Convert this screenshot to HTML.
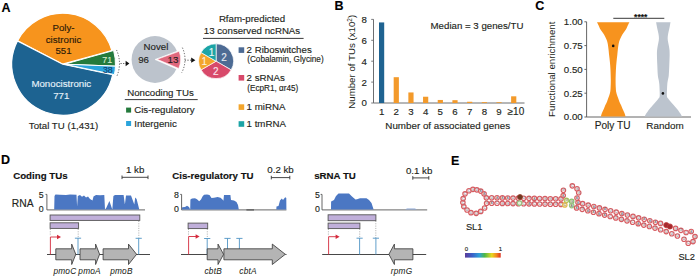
<!DOCTYPE html>
<html><head><meta charset="utf-8"><style>
html,body{margin:0;padding:0;background:#fff;}
svg{display:block;}
text{font-family:"Liberation Sans",sans-serif;}
</style></head><body>
<svg width="698" height="276" viewBox="0 0 698 276">
<rect width="698" height="276" fill="#fff"/>
<text x="1.5" y="12.2" font-size="12.5" text-anchor="start" fill="#000" stroke="#000" stroke-width="0.14" font-weight="bold" font-style="normal" >A</text>
<path d="M62.80,64.20 L17.44,40.89 A51,51 0 0 1 111.92,50.49 Z" fill="#f7941d" stroke="#fff" stroke-width="1.2" stroke-linejoin="round"/>
<path d="M62.80,64.20 L112.72,74.63 A51,51 0 1 1 17.44,40.89 Z" fill="#1d6391" stroke="#fff" stroke-width="1.2" stroke-linejoin="round"/>
<path d="M64.50,64.20 L113.62,50.49 A51,51 0 0 1 115.46,66.16 Z" fill="#247a3c" stroke="#fff" stroke-width="1.0" stroke-linejoin="round"/>
<path d="M64.50,64.20 L115.46,66.16 A51,51 0 0 1 114.42,74.63 Z" fill="#2aa4dc" stroke="#fff" stroke-width="1.0" stroke-linejoin="round"/>
<text x="63.5" y="30.6" font-size="9.7" text-anchor="middle" fill="#2b1a08" stroke="#2b1a08" stroke-width="0.14" font-weight="normal" font-style="normal" >Poly-</text>
<text x="63.5" y="42.5" font-size="9.7" text-anchor="middle" fill="#2b1a08" stroke="#2b1a08" stroke-width="0.14" font-weight="normal" font-style="normal" >cistronic</text>
<text x="63.5" y="53.9" font-size="9.7" text-anchor="middle" fill="#2b1a08" stroke="#2b1a08" stroke-width="0.14" font-weight="normal" font-style="normal" >551</text>
<text x="61.3" y="87.1" font-size="9.7" text-anchor="middle" fill="#e6f2fa" stroke="#e6f2fa" stroke-width="0.14" font-weight="normal" font-style="normal" >Monocistronic</text>
<text x="61.3" y="98.5" font-size="9.7" text-anchor="middle" fill="#e6f2fa" stroke="#e6f2fa" stroke-width="0.14" font-weight="normal" font-style="normal" >771</text>
<text x="107.2" y="62.7" font-size="8.8" text-anchor="middle" fill="#d8ecd0" stroke="#d8ecd0" stroke-width="0.14" font-weight="normal" font-style="normal" >71</text>
<text x="107.8" y="73.3" font-size="8.8" text-anchor="middle" fill="#123f73" stroke="#123f73" stroke-width="0.14" font-weight="normal" font-style="normal" >38</text>
<text x="63.5" y="128.5" font-size="9.7" text-anchor="middle" fill="#231f20" stroke="#231f20" stroke-width="0.14" font-weight="normal" font-style="normal" >Total TU (1,431)</text>
<path d="M116.50,49.98 A32,32 0 0 1 116.50,77.02" fill="none" stroke="#333" stroke-width="0.8" stroke-dasharray="1.2,1.6"/>
<path d="M120.5,63.5 H126" stroke="#333" stroke-width="0.8" stroke-dasharray="1.2,1.4"/>
<path d="M125.6,60.8 L129.4,63.5 L125.6,66.2 Z" fill="#111"/>
<circle cx="155.0" cy="59.5" r="23.4" fill="#bcc3cc"/>
<path d="M155.00,59.50 L177.20,51.20 A23.7,23.7 0 0 1 176.73,68.95 Z" fill="#fff" stroke="#fff" stroke-width="0.6" stroke-linejoin="round"/>
<path d="M157.20,59.30 L179.19,51.30 A23.4,23.4 0 0 1 178.74,68.44 Z" fill="#e0687d" stroke="#fff" stroke-width="0.6" stroke-linejoin="round"/>
<text x="156" y="49.9" font-size="9.7" text-anchor="middle" fill="#231f20" stroke="#231f20" stroke-width="0.14" font-weight="normal" font-style="normal" >Novel</text>
<text x="143.6" y="62.9" font-size="9.7" text-anchor="middle" fill="#231f20" stroke="#231f20" stroke-width="0.14" font-weight="normal" font-style="normal" >96</text>
<text x="172.9" y="62.9" font-size="9.7" text-anchor="middle" fill="#231f20" stroke="#231f20" stroke-width="0.14" font-weight="normal" font-style="normal" >13</text>
<path d="M182.38,47.67 A28,28 0 0 1 181.72,72.65" fill="none" stroke="#333" stroke-width="0.8" stroke-dasharray="1.2,1.6"/>
<path d="M184.8,60.2 H191.5" stroke="#333" stroke-width="0.8" stroke-dasharray="1.2,1.4"/>
<path d="M191.2,57.6 L195.4,60.2 L191.2,62.8 Z" fill="#111"/>
<text x="252" y="22.3" font-size="9.7" text-anchor="middle" fill="#231f20" stroke="#231f20" stroke-width="0.14" font-weight="normal" font-style="normal" >Rfam-predicted</text>
<text x="252" y="34.0" font-size="9.7" text-anchor="middle" fill="#231f20" stroke="#231f20" stroke-width="0.14" font-weight="normal" font-style="normal" >13 conserved ncRNAs</text>
<path d="M203,38.4 H303.6" stroke="#222" stroke-width="0.9"/>
<path d="M216.10,61.20 L216.10,43.80 A17.4,17.4 0 0 1 231.17,69.90 Z" fill="#4d6b94" stroke="#fff" stroke-width="0.7" stroke-linejoin="round"/>
<path d="M216.10,61.20 L231.17,69.90 A17.4,17.4 0 0 1 201.03,69.90 Z" fill="#d8496a" stroke="#fff" stroke-width="0.7" stroke-linejoin="round"/>
<path d="M216.10,61.20 L201.03,69.90 A17.4,17.4 0 0 1 201.03,52.50 Z" fill="#f3a52c" stroke="#fff" stroke-width="0.7" stroke-linejoin="round"/>
<path d="M216.10,61.20 L201.03,52.50 A17.4,17.4 0 0 1 216.10,43.80 Z" fill="#1ba4a6" stroke="#fff" stroke-width="0.7" stroke-linejoin="round"/>
<text x="211.5" y="55.8" font-size="10" text-anchor="middle" fill="#e8f6f6" stroke="#e8f6f6" stroke-width="0.14" font-weight="normal" font-style="normal" >1</text>
<text x="224.1" y="60.6" font-size="10" text-anchor="middle" fill="#e3e9f2" stroke="#e3e9f2" stroke-width="0.14" font-weight="normal" font-style="normal" >2</text>
<text x="204.3" y="64.8" font-size="10" text-anchor="middle" fill="#fdf0dc" stroke="#fdf0dc" stroke-width="0.14" font-weight="normal" font-style="normal" >1</text>
<text x="215.9" y="75.0" font-size="10" text-anchor="middle" fill="#fbe3ea" stroke="#fbe3ea" stroke-width="0.14" font-weight="normal" font-style="normal" >2</text>
<rect x="238.6" y="47.3" width="5.6" height="5.6" fill="#4d6b94"/>
<text x="246.6" y="53.0" font-size="9.7" text-anchor="start" fill="#231f20" stroke="#231f20" stroke-width="0.14" font-weight="normal" font-style="normal" >2 Riboswitches</text>
<text x="247.2" y="62.3" font-size="8.2" text-anchor="start" fill="#231f20" stroke="#231f20" stroke-width="0.14" font-weight="normal" font-style="normal" >(Cobalamin, Glycine)</text>
<rect x="238.6" y="75.0" width="5.6" height="5.6" fill="#d8496a"/>
<text x="246.6" y="80.8" font-size="9.7" text-anchor="start" fill="#231f20" stroke="#231f20" stroke-width="0.14" font-weight="normal" font-style="normal" >2 sRNAs</text>
<text x="247.2" y="90.8" font-size="8.2" text-anchor="start" fill="#231f20" stroke="#231f20" stroke-width="0.14" font-weight="normal" font-style="normal" >(EcpR1, αr45)</text>
<rect x="238.6" y="104.3" width="5.6" height="5.6" fill="#f3a52c"/>
<text x="246.6" y="110.3" font-size="9.7" text-anchor="start" fill="#231f20" stroke="#231f20" stroke-width="0.14" font-weight="normal" font-style="normal" >1 miRNA</text>
<rect x="238.6" y="121.2" width="5.6" height="5.6" fill="#1ba4a6"/>
<text x="246.6" y="127.1" font-size="9.7" text-anchor="start" fill="#231f20" stroke="#231f20" stroke-width="0.14" font-weight="normal" font-style="normal" >1 tmRNA</text>
<text x="127.2" y="95.9" font-size="9.7" text-anchor="start" fill="#231f20" stroke="#231f20" stroke-width="0.14" font-weight="normal" font-style="normal" >Noncoding TUs</text>
<path d="M124.8,99.6 H197.7" stroke="#222" stroke-width="0.9"/>
<rect x="126.1" y="107.6" width="5.0" height="5.0" fill="#247a3c"/>
<text x="134.2" y="112.9" font-size="9.7" text-anchor="start" fill="#231f20" stroke="#231f20" stroke-width="0.14" font-weight="normal" font-style="normal" >Cis-regulatory</text>
<rect x="126.1" y="121.0" width="5.0" height="5.0" fill="#2aa4dc"/>
<text x="134.2" y="126.8" font-size="9.7" text-anchor="start" fill="#231f20" stroke="#231f20" stroke-width="0.14" font-weight="normal" font-style="normal" >Intergenic</text>
<text x="334.6" y="9.6" font-size="12.5" text-anchor="start" fill="#000" stroke="#000" stroke-width="0.14" font-weight="bold" font-style="normal" >B</text>
<path d="M373.5,19.3 V103.0 H524.5" fill="none" stroke="#6d6e71" stroke-width="1.0"/>
<path d="M371.2,103.00 H373.5" stroke="#6d6e71" stroke-width="0.9"/>
<text x="364.3" y="106.4" font-size="9.7" text-anchor="middle" fill="#231f20" stroke="#231f20" stroke-width="0.14" font-weight="normal" font-style="normal" >0</text>
<path d="M371.2,82.10 H373.5" stroke="#6d6e71" stroke-width="0.9"/>
<text x="364.3" y="85.5" font-size="9.7" text-anchor="middle" fill="#231f20" stroke="#231f20" stroke-width="0.14" font-weight="normal" font-style="normal" >2</text>
<path d="M371.2,61.20 H373.5" stroke="#6d6e71" stroke-width="0.9"/>
<text x="364.3" y="64.60000000000001" font-size="9.7" text-anchor="middle" fill="#231f20" stroke="#231f20" stroke-width="0.14" font-weight="normal" font-style="normal" >4</text>
<path d="M371.2,40.30 H373.5" stroke="#6d6e71" stroke-width="0.9"/>
<text x="364.3" y="43.7" font-size="9.7" text-anchor="middle" fill="#231f20" stroke="#231f20" stroke-width="0.14" font-weight="normal" font-style="normal" >6</text>
<path d="M371.2,19.40 H373.5" stroke="#6d6e71" stroke-width="0.9"/>
<text x="364.3" y="22.800000000000004" font-size="9.7" text-anchor="middle" fill="#231f20" stroke="#231f20" stroke-width="0.14" font-weight="normal" font-style="normal" >8</text>
<rect x="379.00" y="22.43" width="5.2" height="80.57" fill="#1f6391"/>
<text x="381.60" y="115.3" font-size="9.7" text-anchor="middle" fill="#231f20" stroke="#231f20" stroke-width="0.14" font-weight="normal" font-style="normal" >1</text>
<rect x="393.68" y="77.19" width="5.2" height="25.81" fill="#f39a2b"/>
<text x="396.28" y="115.3" font-size="9.7" text-anchor="middle" fill="#231f20" stroke="#231f20" stroke-width="0.14" font-weight="normal" font-style="normal" >2</text>
<rect x="408.36" y="92.45" width="5.2" height="10.55" fill="#f39a2b"/>
<text x="410.96" y="115.3" font-size="9.7" text-anchor="middle" fill="#231f20" stroke="#231f20" stroke-width="0.14" font-weight="normal" font-style="normal" >3</text>
<rect x="423.04" y="96.73" width="5.2" height="6.27" fill="#f39a2b"/>
<text x="425.64" y="115.3" font-size="9.7" text-anchor="middle" fill="#231f20" stroke="#231f20" stroke-width="0.14" font-weight="normal" font-style="normal" >4</text>
<rect x="437.72" y="99.97" width="5.2" height="3.03" fill="#f39a2b"/>
<text x="440.32" y="115.3" font-size="9.7" text-anchor="middle" fill="#231f20" stroke="#231f20" stroke-width="0.14" font-weight="normal" font-style="normal" >5</text>
<rect x="452.40" y="100.18" width="5.2" height="2.82" fill="#f39a2b"/>
<text x="455.00" y="115.3" font-size="9.7" text-anchor="middle" fill="#231f20" stroke="#231f20" stroke-width="0.14" font-weight="normal" font-style="normal" >6</text>
<rect x="467.08" y="101.75" width="5.2" height="1.25" fill="#f39a2b"/>
<text x="469.68" y="115.3" font-size="9.7" text-anchor="middle" fill="#231f20" stroke="#231f20" stroke-width="0.14" font-weight="normal" font-style="normal" >7</text>
<rect x="481.76" y="102.16" width="5.2" height="0.84" fill="#f39a2b"/>
<text x="484.36" y="115.3" font-size="9.7" text-anchor="middle" fill="#231f20" stroke="#231f20" stroke-width="0.14" font-weight="normal" font-style="normal" >8</text>
<rect x="496.44" y="102.27" width="5.2" height="0.73" fill="#f39a2b"/>
<text x="499.04" y="115.3" font-size="9.7" text-anchor="middle" fill="#231f20" stroke="#231f20" stroke-width="0.14" font-weight="normal" font-style="normal" >9</text>
<rect x="511.12" y="96.31" width="5.2" height="6.69" fill="#f39a2b"/>
<text x="515.92" y="115.3" font-size="10" text-anchor="middle" fill="#231f20" stroke="#231f20" stroke-width="0.14" font-weight="normal" font-style="normal" >≥10</text>
<text x="447.7" y="129.0" font-size="9.8" text-anchor="middle" fill="#231f20" stroke="#231f20" stroke-width="0.14" font-weight="normal" font-style="normal" >Number of associated genes</text>
<text x="477" y="28.6" font-size="9.7" text-anchor="middle" fill="#231f20" stroke="#231f20" stroke-width="0.14" font-weight="normal" font-style="normal" >Median = 3 genes/TU</text>
<text transform="translate(355.4,61.8) rotate(-90)" font-size="9.7" text-anchor="middle" fill="#231f20">Number of TUs (x10<tspan font-size="6.5" dy="-3.5">2</tspan><tspan dy="3.5">)</tspan></text>
<text x="535.2" y="10.3" font-size="12.5" text-anchor="start" fill="#000" stroke="#000" stroke-width="0.14" font-weight="bold" font-style="normal" >C</text>
<path d="M586.6,21.8 V117.0 H691" fill="none" stroke="#555" stroke-width="0.9"/>
<path d="M584.4,21.80 H586.6" stroke="#555" stroke-width="0.9"/>
<text x="582.7" y="25.199999999999996" font-size="9.7" text-anchor="end" fill="#231f20" stroke="#231f20" stroke-width="0.14" font-weight="normal" font-style="normal" >1.00</text>
<path d="M584.4,45.60 H586.6" stroke="#555" stroke-width="0.9"/>
<text x="582.7" y="48.99999999999999" font-size="9.7" text-anchor="end" fill="#231f20" stroke="#231f20" stroke-width="0.14" font-weight="normal" font-style="normal" >0.75</text>
<path d="M584.4,69.40 H586.6" stroke="#555" stroke-width="0.9"/>
<text x="582.7" y="72.80000000000001" font-size="9.7" text-anchor="end" fill="#231f20" stroke="#231f20" stroke-width="0.14" font-weight="normal" font-style="normal" >0.50</text>
<path d="M584.4,93.20 H586.6" stroke="#555" stroke-width="0.9"/>
<text x="582.7" y="96.60000000000001" font-size="9.7" text-anchor="end" fill="#231f20" stroke="#231f20" stroke-width="0.14" font-weight="normal" font-style="normal" >0.25</text>
<path d="M584.4,117.00 H586.6" stroke="#555" stroke-width="0.9"/>
<text x="582.7" y="120.4" font-size="9.7" text-anchor="end" fill="#231f20" stroke="#231f20" stroke-width="0.14" font-weight="normal" font-style="normal" >0.00</text>
<text transform="translate(555.4,69.3) rotate(-90)" font-size="9.7" text-anchor="middle" fill="#231f20">Functional enrichment</text>
<text x="612.6" y="129.0" font-size="10.1" text-anchor="middle" fill="#231f20" stroke="#231f20" stroke-width="0.14" font-weight="normal" font-style="normal" >Poly TU</text>
<text x="665.0" y="128.9" font-size="9.9" text-anchor="middle" fill="#231f20" stroke="#231f20" stroke-width="0.14" font-weight="normal" font-style="normal" >Random</text>
<path d="M597.00,22.20 C597.23,22.67 597.82,23.78 598.40,25.00 C598.98,26.22 599.73,28.17 600.50,29.50 C601.27,30.83 602.22,31.80 603.00,33.00 C603.78,34.20 604.58,35.53 605.20,36.70 C605.82,37.87 606.27,38.78 606.70,40.00 C607.13,41.22 607.48,42.33 607.80,44.00 C608.12,45.67 608.38,48.17 608.60,50.00 C608.82,51.83 608.88,53.00 609.10,55.00 C609.32,57.00 609.67,59.50 609.90,62.00 C610.13,64.50 610.35,67.00 610.50,70.00 C610.65,73.00 610.78,77.00 610.80,80.00 C610.82,83.00 610.70,86.00 610.60,88.00 C610.50,90.00 610.40,90.83 610.20,92.00 C610.00,93.17 609.72,94.00 609.40,95.00 C609.08,96.00 608.70,96.88 608.30,98.00 C607.90,99.12 607.48,100.53 607.00,101.70 C606.52,102.87 605.93,103.78 605.40,105.00 C604.87,106.22 604.30,107.83 603.80,109.00 C603.30,110.17 602.80,111.08 602.40,112.00 C602.00,112.92 601.65,113.75 601.40,114.50 C601.15,115.25 600.98,116.17 600.90,116.50 L625.50,116.50 C625.42,116.17 625.25,115.25 625.00,114.50 C624.75,113.75 624.40,112.92 624.00,112.00 C623.60,111.08 623.10,110.17 622.60,109.00 C622.10,107.83 621.53,106.22 621.00,105.00 C620.47,103.78 619.88,102.87 619.40,101.70 C618.92,100.53 618.50,99.12 618.10,98.00 C617.70,96.88 617.32,96.00 617.00,95.00 C616.68,94.00 616.40,93.17 616.20,92.00 C616.00,90.83 615.90,90.00 615.80,88.00 C615.70,86.00 615.58,83.00 615.60,80.00 C615.62,77.00 615.75,73.00 615.90,70.00 C616.05,67.00 616.27,64.50 616.50,62.00 C616.73,59.50 617.08,57.00 617.30,55.00 C617.52,53.00 617.58,51.83 617.80,50.00 C618.02,48.17 618.28,45.67 618.60,44.00 C618.92,42.33 619.27,41.22 619.70,40.00 C620.13,38.78 620.58,37.87 621.20,36.70 C621.82,35.53 622.62,34.20 623.40,33.00 C624.18,31.80 625.13,30.83 625.90,29.50 C626.67,28.17 627.42,26.22 628.00,25.00 C628.58,23.78 629.17,22.67 629.40,22.20 Z" fill="#f7931e"/>
<path d="M656.10,22.20 C656.18,22.67 656.37,23.78 656.60,25.00 C656.83,26.22 657.18,28.00 657.50,29.50 C657.82,31.00 658.26,32.55 658.50,34.00 C658.74,35.45 658.95,36.87 658.95,38.20 C658.95,39.53 658.71,40.70 658.50,42.00 C658.29,43.30 657.93,44.67 657.70,46.00 C657.47,47.33 657.22,48.50 657.10,50.00 C656.97,51.50 656.92,52.50 656.95,55.00 C656.98,57.50 657.16,61.67 657.30,65.00 C657.44,68.33 657.57,72.50 657.80,75.00 C658.03,77.50 658.45,78.50 658.70,80.00 C658.95,81.50 659.15,82.33 659.30,84.00 C659.45,85.67 659.54,87.92 659.60,90.00 C659.66,92.08 659.90,95.00 659.65,96.50 C659.40,98.00 658.91,97.92 658.10,99.00 C657.29,100.08 655.80,101.83 654.80,103.00 C653.80,104.17 653.05,104.90 652.10,106.00 C651.15,107.10 649.88,108.60 649.10,109.60 C648.32,110.60 647.93,111.27 647.40,112.00 C646.87,112.73 646.35,113.25 645.90,114.00 C645.45,114.75 644.90,116.08 644.70,116.50 L681.90,116.50 C681.70,116.08 681.15,114.75 680.70,114.00 C680.25,113.25 679.73,112.73 679.20,112.00 C678.67,111.27 678.28,110.60 677.50,109.60 C676.72,108.60 675.45,107.10 674.50,106.00 C673.55,104.90 672.80,104.17 671.80,103.00 C670.80,101.83 669.31,100.08 668.50,99.00 C667.69,97.92 667.20,98.00 666.95,96.50 C666.70,95.00 666.94,92.08 667.00,90.00 C667.06,87.92 667.15,85.67 667.30,84.00 C667.45,82.33 667.65,81.50 667.90,80.00 C668.15,78.50 668.57,77.50 668.80,75.00 C669.03,72.50 669.16,68.33 669.30,65.00 C669.44,61.67 669.62,57.50 669.65,55.00 C669.68,52.50 669.62,51.50 669.50,50.00 C669.38,48.50 669.13,47.33 668.90,46.00 C668.67,44.67 668.31,43.30 668.10,42.00 C667.89,40.70 667.65,39.53 667.65,38.20 C667.65,36.87 667.86,35.45 668.10,34.00 C668.34,32.55 668.78,31.00 669.10,29.50 C669.42,28.00 669.77,26.22 670.00,25.00 C670.23,23.78 670.42,22.67 670.50,22.20 Z" fill="#bcc4ce"/>
<circle cx="613.2" cy="45.9" r="1.3" fill="#111"/>
<circle cx="662.9" cy="93.4" r="1.3" fill="#111"/>
<path d="M613.3,18.3 H664.3" stroke="#222" stroke-width="0.9"/>
<text x="640.7" y="20.2" font-size="8.5" text-anchor="middle" fill="#111" stroke="#111" stroke-width="0.14" font-weight="bold" font-style="normal" >****</text>
<text x="1.0" y="164.2" font-size="12.5" text-anchor="start" fill="#000" stroke="#000" stroke-width="0.14" font-weight="bold" font-style="normal" >D</text>
<text x="13.2" y="178.7" font-size="9.7" text-anchor="start" fill="#111" stroke="#111" stroke-width="0.14" font-weight="bold" font-style="normal" >Coding TUs</text>
<text x="172.3" y="178.9" font-size="9.7" text-anchor="start" fill="#111" stroke="#111" stroke-width="0.14" font-weight="bold" font-style="normal" >Cis-regulatory TU</text>
<text x="314.2" y="178.9" font-size="9.7" text-anchor="start" fill="#111" stroke="#111" stroke-width="0.14" font-weight="bold" font-style="normal" >sRNA TU</text>
<text x="33.6" y="207.0" font-size="10.3" text-anchor="end" fill="#231f20" stroke="#231f20" stroke-width="0.14" font-weight="normal" font-style="normal" >RNA</text>
<path d="M122,177.3 H148 M122,175.5 V179.10000000000002 M148,175.5 V179.10000000000002" stroke="#333" stroke-width="0.9" fill="none"/>
<text x="135.2" y="172.9" font-size="9.7" text-anchor="middle" fill="#231f20" stroke="#231f20" stroke-width="0.14" font-weight="normal" font-style="normal" >1 kb</text>
<path d="M271.3,177.6 H289.8 M271.3,175.79999999999998 V179.4 M289.8,175.79999999999998 V179.4" stroke="#333" stroke-width="0.9" fill="none"/>
<text x="280.5" y="173.2" font-size="9.7" text-anchor="middle" fill="#231f20" stroke="#231f20" stroke-width="0.14" font-weight="normal" font-style="normal" >0.2 kb</text>
<path d="M412.8,177.9 H428.8 M412.8,176.1 V179.70000000000002 M428.8,176.1 V179.70000000000002" stroke="#333" stroke-width="0.9" fill="none"/>
<text x="419.1" y="173.5" font-size="9.7" text-anchor="middle" fill="#231f20" stroke="#231f20" stroke-width="0.14" font-weight="normal" font-style="normal" >0.1 kb</text>
<path d="M45.5,194.4 H46.9 V209.9 H145" fill="none" stroke="#555" stroke-width="0.9"/>
<text x="41.1" y="197.6" font-size="8.8" text-anchor="middle" fill="#231f20" stroke="#231f20" stroke-width="0.14" font-weight="normal" font-style="normal" >5</text>
<text x="41.1" y="212.1" font-size="8.8" text-anchor="middle" fill="#231f20" stroke="#231f20" stroke-width="0.14" font-weight="normal" font-style="normal" >0</text>
<path d="M54.2,209.6 L54.5,196.0 L55.5,194.6 L60.0,194.7 L66.0,195.0 L70.0,194.6 L76.5,194.8 L77.1,206.5 L77.8,196.0 L80.0,195.0 L82.0,196.8 L84.0,195.5 L86.0,197.5 L88.0,196.5 L90.0,199.0 L92.5,200.5 L93.5,196.5 L96.0,195.0 L100.0,195.2 L104.3,195.0 L105.0,209.6 L106.2,208.0 L109.4,201.0 L112.3,209.6 L113.4,196.0 L115.0,195.0 L123.6,195.0 L124.9,204.5 L126.0,195.5 L131.0,195.5 L134.3,204.5 L135.2,197.6 L136.6,199.0 L139.3,209.6 Z" fill="#4b77c3"/>
<path d="M180.2,194.4 H181.6 V209.9 H286.4" fill="none" stroke="#555" stroke-width="0.9"/>
<text x="176.5" y="197.6" font-size="8.8" text-anchor="middle" fill="#231f20" stroke="#231f20" stroke-width="0.14" font-weight="normal" font-style="normal" >8</text>
<text x="176.5" y="212.1" font-size="8.8" text-anchor="middle" fill="#231f20" stroke="#231f20" stroke-width="0.14" font-weight="normal" font-style="normal" >0</text>
<path d="M181.8,209.6 L182.2,207.2 L185.0,207.0 L187.0,205.8 L189.0,207.0 L190.2,209.6 L190.4,199.5 L192.0,198.6 L195.0,198.3 L197.0,199.2 L199.2,201.2 L201.0,199.5 L202.5,196.5 L204.0,194.8 L207.0,194.4 L209.5,195.0 L211.5,197.9 L214.0,197.8 L217.6,197.0 L220.5,197.8 L222.5,199.5 L223.4,200.7 L224.0,195.0 L230.4,195.0 L231.0,200.0 L234.0,200.5 L236.5,202.0 L238.0,205.0 L238.8,209.6 Z" fill="#4b77c3"/>
<path d="M246.4,209.9 H254" stroke="#555" stroke-width="1.2"/>
<path d="M276.3,209.6 L276.5,206.5 L278.5,206.0 L280.0,200.5 L281.8,198.5 L283.0,200.0 L285.2,197.3 L286.3,198.0 L286.4,209.6 Z" fill="#4b77c3"/>
<path d="M320.6,194.4 H322.0 V209.9 H427.2" fill="none" stroke="#555" stroke-width="0.9"/>
<text x="317.5" y="197.6" font-size="8.8" text-anchor="middle" fill="#231f20" stroke="#231f20" stroke-width="0.14" font-weight="normal" font-style="normal" >5</text>
<text x="317.5" y="212.1" font-size="8.8" text-anchor="middle" fill="#231f20" stroke="#231f20" stroke-width="0.14" font-weight="normal" font-style="normal" >0</text>
<path d="M331.0,209.6 L331.1,201.5 L334.0,200.0 L336.0,196.0 L338.5,193.6 L349.0,193.6 L352.0,196.5 L355.5,199.5 L357.0,199.3 L360.0,198.2 L366.5,198.2 L369.0,200.0 L371.5,203.0 L373.6,209.6 Z" fill="#4b77c3"/>
<path d="M405.0,209.6 L407.0,208.6 L415.0,208.6 L417.0,209.6 Z" fill="#8aa6d6"/>
<rect x="50.1" y="215.0" width="89.70000000000002" height="5.400000000000006" fill="#c0afda" stroke="#555555" stroke-width="0.9"/>
<rect x="50.1" y="222.8" width="28.499999999999993" height="5.599999999999994" fill="#c0afda" stroke="#555555" stroke-width="0.9"/>
<path d="M50.3,229 V236" stroke="#888" stroke-width="0.7" stroke-dasharray="1,1.3"/>
<path d="M78.2,229 V237.5" stroke="#888" stroke-width="0.7" stroke-dasharray="1,1.3"/>
<path d="M138.8,221 V237.5" stroke="#888" stroke-width="0.7" stroke-dasharray="1,1.3"/>
<path d="M47,254.5 H150" stroke="#333" stroke-width="0.9"/>
<path d="M50.4,254.5 V237.0 H57.5" fill="none" stroke="#d42a3c" stroke-width="0.9"/>
<path d="M57.0,234.8 L61.0,237.0 L57.0,239.2 Z" fill="#d42a3c"/>
<path d="M78.0,254.5 V238.2 M74.9,238.2 H81.1" fill="none" stroke="#4f94c4" stroke-width="0.9"/>
<path d="M138.7,254.5 V238.3 M135.6,238.3 H141.79999999999998" fill="none" stroke="#4f94c4" stroke-width="0.9"/>
<path d="M55.8,248.8 H71.7 V244.10000000000002 L75.8,254.3 L71.7,264.5 V259.8 H55.8 Z" fill="#b4b4b4" stroke="#333" stroke-width="0.8" stroke-linejoin="miter"/>
<path d="M80.0,248.8 H95.6 V244.10000000000002 L99.6,254.3 L95.6,264.5 V259.8 H80.0 Z" fill="#b4b4b4" stroke="#333" stroke-width="0.8" stroke-linejoin="miter"/>
<path d="M103.1,248.8 H128.5 V244.10000000000002 L136.6,254.3 L128.5,264.5 V259.8 H103.1 Z" fill="#b4b4b4" stroke="#333" stroke-width="0.8" stroke-linejoin="miter"/>
<text x="64.9" y="273.9" font-size="8.3" text-anchor="middle" fill="#231f20" stroke="#231f20" stroke-width="0.05" font-weight="normal" font-style="italic" letter-spacing="0.2">pmoC</text>
<text x="89.6" y="273.9" font-size="8.3" text-anchor="middle" fill="#231f20" stroke="#231f20" stroke-width="0.05" font-weight="normal" font-style="italic" letter-spacing="0.2">pmoA</text>
<text x="121.4" y="273.8" font-size="8.3" text-anchor="middle" fill="#231f20" stroke="#231f20" stroke-width="0.05" font-weight="normal" font-style="italic" letter-spacing="0.2">pmoB</text>
<rect x="188.1" y="223.1" width="19.599999999999994" height="5.5" fill="#c0afda" stroke="#555555" stroke-width="0.9"/>
<path d="M188.5,229 V236" stroke="#888" stroke-width="0.7" stroke-dasharray="1,1.3"/>
<path d="M207.3,229 V238" stroke="#888" stroke-width="0.7" stroke-dasharray="1,1.3"/>
<path d="M181,254.5 H207" stroke="#333" stroke-width="0.9"/>
<path d="M188.6,254.5 V236.5 H196.1" fill="none" stroke="#d42a3c" stroke-width="0.9"/>
<path d="M195.6,234.3 L199.6,236.5 L195.6,238.7 Z" fill="#d42a3c"/>
<path d="M207.2,254.5 V238.5 M204.1,238.5 H210.29999999999998" fill="none" stroke="#4f94c4" stroke-width="0.9"/>
<path d="M227.5,254.5 V238.4 M224.4,238.4 H230.6" fill="none" stroke="#4f94c4" stroke-width="0.9"/>
<path d="M239.4,254.5 V238.4 M236.3,238.4 H242.5" fill="none" stroke="#4f94c4" stroke-width="0.9"/>
<path d="M207.2,248.8 H218.0 V244.10000000000002 L223.6,254.3 L218.0,264.5 V259.8 H207.2 Z" fill="#b4b4b4" stroke="#333" stroke-width="0.8" stroke-linejoin="miter"/>
<path d="M223.9,248.8 H272.3 V244.10000000000002 L285.3,254.3 L272.3,264.5 V259.8 H223.9 Z" fill="#b4b4b4" stroke="#333" stroke-width="0.8" stroke-linejoin="miter"/>
<path d="M285.3,254.5 H286.5" stroke="#333" stroke-width="0.9"/>
<text x="213.2" y="273.6" font-size="8.3" text-anchor="middle" fill="#231f20" stroke="#231f20" stroke-width="0.05" font-weight="normal" font-style="italic" letter-spacing="0.2">cbtB</text>
<text x="248.0" y="273.8" font-size="8.3" text-anchor="middle" fill="#231f20" stroke="#231f20" stroke-width="0.05" font-weight="normal" font-style="italic" letter-spacing="0.2">cbtA</text>
<rect x="328.1" y="214.8" width="47.799999999999955" height="5.899999999999977" fill="#c0afda" stroke="#555555" stroke-width="0.9"/>
<rect x="328.1" y="223.1" width="31.799999999999955" height="5.5" fill="#c0afda" stroke="#555555" stroke-width="0.9"/>
<path d="M328.4,229 V236" stroke="#888" stroke-width="0.7" stroke-dasharray="1,1.3"/>
<path d="M359.7,229 V238" stroke="#888" stroke-width="0.7" stroke-dasharray="1,1.3"/>
<path d="M375.8,221 V238" stroke="#888" stroke-width="0.7" stroke-dasharray="1,1.3"/>
<path d="M322.2,254.5 H426.2" stroke="#333" stroke-width="0.9"/>
<path d="M328.6,254.5 V236.7 H336.1" fill="none" stroke="#d42a3c" stroke-width="0.9"/>
<path d="M335.6,234.5 L339.6,236.7 L335.6,238.89999999999998 Z" fill="#d42a3c"/>
<path d="M359.6,254.5 V238.2 M356.5,238.2 H362.70000000000005" fill="none" stroke="#4f94c4" stroke-width="0.9"/>
<path d="M375.9,254.5 V238.2 M372.79999999999995,238.2 H379.0" fill="none" stroke="#4f94c4" stroke-width="0.9"/>
<path d="M412.9,248.8 H394.4 V244.10000000000002 L388.9,254.3 L394.4,264.5 V259.8 H412.9 Z" fill="#b4b4b4" stroke="#333" stroke-width="0.8" stroke-linejoin="miter"/>
<text x="401.6" y="273.8" font-size="8.3" text-anchor="middle" fill="#231f20" stroke="#231f20" stroke-width="0.05" font-weight="normal" font-style="italic" letter-spacing="0.2">rpmG</text>
<text x="451.0" y="164.6" font-size="12.5" text-anchor="start" fill="#000" stroke="#000" stroke-width="0.14" font-weight="bold" font-style="normal" >E</text>
<text x="474.2" y="229.9" font-size="9.3" text-anchor="middle" fill="#231f20" stroke="#231f20" stroke-width="0.14" font-weight="normal" font-style="normal" >SL1</text>
<text x="686.7" y="260.4" font-size="9.3" text-anchor="middle" fill="#231f20" stroke="#231f20" stroke-width="0.14" font-weight="normal" font-style="normal" >SL2</text>
<defs><linearGradient id="cb" x1="0" x2="1" y1="0" y2="0"><stop offset="0" stop-color="#5b3c99"/><stop offset="0.2" stop-color="#3b5fc8"/><stop offset="0.4" stop-color="#2fa0d8"/><stop offset="0.55" stop-color="#4cb848"/><stop offset="0.75" stop-color="#e8d820"/><stop offset="0.88" stop-color="#f28a20"/><stop offset="1" stop-color="#e0301e"/></linearGradient></defs>
<rect x="465" y="253" width="35.7" height="4.6" fill="url(#cb)"/>
<text x="466.4" y="250.6" font-size="6" text-anchor="middle" fill="#231f20" stroke="#231f20" stroke-width="0.14" font-weight="normal" font-style="normal" >0</text>
<text x="500.3" y="250.6" font-size="6" text-anchor="middle" fill="#231f20" stroke="#231f20" stroke-width="0.14" font-weight="normal" font-style="normal" >1</text>
<circle cx="465.05" cy="193.86" r="2.25" fill="#fdf4f4" stroke="#d65c62" stroke-width="1.15"/>
<text x="465.05" y="195.01" font-size="3.4" text-anchor="middle" fill="#6e6262">C</text>
<circle cx="468.95" cy="190.72" r="2.25" fill="#fdf4f4" stroke="#d65c62" stroke-width="1.15"/>
<text x="468.95" y="191.87" font-size="3.4" text-anchor="middle" fill="#6e6262">C</text>
<circle cx="472.94" cy="189.35" r="2.25" fill="#fdf4f4" stroke="#d65c62" stroke-width="1.15"/>
<text x="472.94" y="190.50" font-size="3.4" text-anchor="middle" fill="#6e6262">G</text>
<circle cx="476.84" cy="189.84" r="2.25" fill="#fdf4f4" stroke="#d65c62" stroke-width="1.15"/>
<text x="476.84" y="190.99" font-size="3.4" text-anchor="middle" fill="#6e6262">U</text>
<circle cx="480.73" cy="191.11" r="2.25" fill="#fdf4f4" stroke="#d65c62" stroke-width="1.15"/>
<text x="480.73" y="192.26" font-size="3.4" text-anchor="middle" fill="#6e6262">A</text>
<circle cx="484.05" cy="193.86" r="2.25" fill="#fdf4f4" stroke="#d65c62" stroke-width="1.15"/>
<text x="484.05" y="195.01" font-size="3.4" text-anchor="middle" fill="#6e6262">A</text>
<circle cx="486.34" cy="197.87" r="2.25" fill="#fdf4f4" stroke="#d65c62" stroke-width="1.15"/>
<text x="486.34" y="199.02" font-size="3.4" text-anchor="middle" fill="#6e6262">U</text>
<circle cx="486.62" cy="203.26" r="2.25" fill="#fdf4f4" stroke="#d65c62" stroke-width="1.15"/>
<text x="486.62" y="204.41" font-size="3.4" text-anchor="middle" fill="#6e6262">G</text>
<circle cx="484.62" cy="207.97" r="2.25" fill="#fdf4f4" stroke="#d65c62" stroke-width="1.15"/>
<text x="484.62" y="209.12" font-size="3.4" text-anchor="middle" fill="#6e6262">C</text>
<circle cx="480.73" cy="211.40" r="2.25" fill="#fdf4f4" stroke="#d65c62" stroke-width="1.15"/>
<text x="480.73" y="212.55" font-size="3.4" text-anchor="middle" fill="#6e6262">C</text>
<circle cx="476.17" cy="213.36" r="2.25" fill="#fdf4f4" stroke="#d65c62" stroke-width="1.15"/>
<text x="476.17" y="214.51" font-size="3.4" text-anchor="middle" fill="#6e6262">U</text>
<circle cx="470.95" cy="212.67" r="2.25" fill="#fdf4f4" stroke="#d65c62" stroke-width="1.15"/>
<text x="470.95" y="213.82" font-size="3.4" text-anchor="middle" fill="#6e6262">U</text>
<circle cx="467.05" cy="210.03" r="2.25" fill="#fdf4f4" stroke="#d65c62" stroke-width="1.15"/>
<text x="467.05" y="211.18" font-size="3.4" text-anchor="middle" fill="#6e6262">U</text>
<circle cx="463.82" cy="206.60" r="2.25" fill="#fdf4f4" stroke="#d65c62" stroke-width="1.15"/>
<text x="463.82" y="207.75" font-size="3.4" text-anchor="middle" fill="#6e6262">C</text>
<circle cx="462.87" cy="202.58" r="2.25" fill="#fdf4f4" stroke="#d65c62" stroke-width="1.15"/>
<text x="462.87" y="203.73" font-size="3.4" text-anchor="middle" fill="#6e6262">C</text>
<circle cx="463.15" cy="198.56" r="2.25" fill="#fdf4f4" stroke="#d65c62" stroke-width="1.15"/>
<text x="463.15" y="199.71" font-size="3.4" text-anchor="middle" fill="#6e6262">C</text>
<circle cx="491.70" cy="197.70" r="2.25" fill="#fdf4f4" stroke="#d65c62" stroke-width="1.15"/>
<text x="491.70" y="198.85" font-size="3.4" text-anchor="middle" fill="#6e6262">U</text>
<circle cx="491.70" cy="203.20" r="2.25" fill="#fdf4f4" stroke="#d65c62" stroke-width="1.15"/>
<text x="491.70" y="204.35" font-size="3.4" text-anchor="middle" fill="#6e6262">A</text>
<circle cx="497.03" cy="197.79" r="2.25" fill="#fdf4f4" stroke="#d65c62" stroke-width="1.15"/>
<text x="497.03" y="198.94" font-size="3.4" text-anchor="middle" fill="#6e6262">A</text>
<circle cx="497.03" cy="203.29" r="2.25" fill="#fdf4f4" stroke="#d65c62" stroke-width="1.15"/>
<text x="497.03" y="204.44" font-size="3.4" text-anchor="middle" fill="#6e6262">C</text>
<circle cx="502.36" cy="197.88" r="2.25" fill="#fdf4f4" stroke="#d65c62" stroke-width="1.15"/>
<text x="502.36" y="199.03" font-size="3.4" text-anchor="middle" fill="#6e6262">A</text>
<circle cx="502.36" cy="203.38" r="2.25" fill="#fdf4f4" stroke="#d65c62" stroke-width="1.15"/>
<text x="502.36" y="204.53" font-size="3.4" text-anchor="middle" fill="#6e6262">G</text>
<circle cx="507.69" cy="197.97" r="2.25" fill="#fdf4f4" stroke="#d65c62" stroke-width="1.15"/>
<text x="507.69" y="199.12" font-size="3.4" text-anchor="middle" fill="#6e6262">A</text>
<circle cx="507.69" cy="203.47" r="2.25" fill="#fdf4f4" stroke="#d65c62" stroke-width="1.15"/>
<text x="507.69" y="204.62" font-size="3.4" text-anchor="middle" fill="#6e6262">G</text>
<circle cx="513.02" cy="198.06" r="2.25" fill="#fdf4f4" stroke="#d65c62" stroke-width="1.15"/>
<text x="513.02" y="199.21" font-size="3.4" text-anchor="middle" fill="#6e6262">U</text>
<circle cx="513.02" cy="203.56" r="2.25" fill="#fdf4f4" stroke="#d65c62" stroke-width="1.15"/>
<text x="513.02" y="204.71" font-size="3.4" text-anchor="middle" fill="#6e6262">U</text>
<circle cx="518.35" cy="198.15" r="2.25" fill="#fdf4f4" stroke="#d65c62" stroke-width="1.15"/>
<text x="518.35" y="199.30" font-size="3.4" text-anchor="middle" fill="#6e6262">U</text>
<circle cx="518.35" cy="203.65" r="2.25" fill="#fdf4f4" stroke="#d65c62" stroke-width="1.15"/>
<text x="518.35" y="204.80" font-size="3.4" text-anchor="middle" fill="#6e6262">U</text>
<circle cx="523.68" cy="198.24" r="2.25" fill="#fdf4f4" stroke="#d65c62" stroke-width="1.15"/>
<text x="523.68" y="199.39" font-size="3.4" text-anchor="middle" fill="#6e6262">U</text>
<circle cx="523.68" cy="203.74" r="2.25" fill="#fdf4f4" stroke="#d65c62" stroke-width="1.15"/>
<text x="523.68" y="204.89" font-size="3.4" text-anchor="middle" fill="#6e6262">C</text>
<circle cx="529.01" cy="198.33" r="2.25" fill="#fdf4f4" stroke="#d65c62" stroke-width="1.15"/>
<text x="529.01" y="199.48" font-size="3.4" text-anchor="middle" fill="#6e6262">G</text>
<circle cx="529.01" cy="203.83" r="2.25" fill="#fdf4f4" stroke="#d65c62" stroke-width="1.15"/>
<text x="529.01" y="204.98" font-size="3.4" text-anchor="middle" fill="#6e6262">A</text>
<circle cx="534.34" cy="198.42" r="2.25" fill="#fdf4f4" stroke="#d65c62" stroke-width="1.15"/>
<text x="534.34" y="199.57" font-size="3.4" text-anchor="middle" fill="#6e6262">A</text>
<circle cx="534.34" cy="203.92" r="2.25" fill="#fdf4f4" stroke="#d65c62" stroke-width="1.15"/>
<text x="534.34" y="205.07" font-size="3.4" text-anchor="middle" fill="#6e6262">C</text>
<circle cx="539.67" cy="198.52" r="2.25" fill="#fdf4f4" stroke="#d65c62" stroke-width="1.15"/>
<text x="539.67" y="199.67" font-size="3.4" text-anchor="middle" fill="#6e6262">U</text>
<circle cx="539.67" cy="204.02" r="2.25" fill="#fdf4f4" stroke="#d65c62" stroke-width="1.15"/>
<text x="539.67" y="205.17" font-size="3.4" text-anchor="middle" fill="#6e6262">C</text>
<circle cx="545.00" cy="198.61" r="2.25" fill="#fdf4f4" stroke="#d65c62" stroke-width="1.15"/>
<text x="545.00" y="199.76" font-size="3.4" text-anchor="middle" fill="#6e6262">G</text>
<circle cx="545.00" cy="204.11" r="2.25" fill="#fdf4f4" stroke="#d65c62" stroke-width="1.15"/>
<text x="545.00" y="205.26" font-size="3.4" text-anchor="middle" fill="#6e6262">U</text>
<circle cx="550.33" cy="198.70" r="2.25" fill="#fdf4f4" stroke="#d65c62" stroke-width="1.15"/>
<text x="550.33" y="199.85" font-size="3.4" text-anchor="middle" fill="#6e6262">G</text>
<circle cx="550.33" cy="204.20" r="2.25" fill="#fdf4f4" stroke="#d65c62" stroke-width="1.15"/>
<text x="550.33" y="205.35" font-size="3.4" text-anchor="middle" fill="#6e6262">U</text>
<circle cx="555.66" cy="198.79" r="2.25" fill="#fdf4f4" stroke="#d65c62" stroke-width="1.15"/>
<text x="555.66" y="199.94" font-size="3.4" text-anchor="middle" fill="#6e6262">U</text>
<circle cx="555.66" cy="204.29" r="2.25" fill="#fdf4f4" stroke="#d65c62" stroke-width="1.15"/>
<text x="555.66" y="205.44" font-size="3.4" text-anchor="middle" fill="#6e6262">G</text>
<circle cx="560.99" cy="198.88" r="2.25" fill="#fdf4f4" stroke="#d65c62" stroke-width="1.15"/>
<text x="560.99" y="200.03" font-size="3.4" text-anchor="middle" fill="#6e6262">U</text>
<circle cx="560.99" cy="204.38" r="2.25" fill="#fdf4f4" stroke="#d65c62" stroke-width="1.15"/>
<text x="560.99" y="205.53" font-size="3.4" text-anchor="middle" fill="#6e6262">C</text>
<circle cx="563.40" cy="190.20" r="2.25" fill="#fdf4f4" stroke="#d65c62" stroke-width="1.15"/>
<text x="563.40" y="191.35" font-size="3.4" text-anchor="middle" fill="#6e6262">G</text>
<circle cx="563.20" cy="195.60" r="2.25" fill="#fdf4f4" stroke="#d65c62" stroke-width="1.15"/>
<text x="563.20" y="196.75" font-size="3.4" text-anchor="middle" fill="#6e6262">A</text>
<circle cx="566.50" cy="200.30" r="2.25" fill="#e8f0c8" stroke="#b0c860" stroke-width="1.15"/>
<text x="566.50" y="201.45" font-size="3.4" text-anchor="middle" fill="#6e6262">G</text>
<circle cx="564.80" cy="204.90" r="2.25" fill="#f8e8b8" stroke="#e0b850" stroke-width="1.15"/>
<text x="564.80" y="206.05" font-size="3.4" text-anchor="middle" fill="#6e6262">C</text>
<circle cx="571.70" cy="201.40" r="2.25" fill="#d8ecc8" stroke="#88c070" stroke-width="1.15"/>
<text x="571.70" y="202.55" font-size="3.4" text-anchor="middle" fill="#6e6262">G</text>
<circle cx="571.70" cy="205.60" r="2.25" fill="#e0f0d0" stroke="#98c480" stroke-width="1.15"/>
<text x="571.70" y="206.75" font-size="3.4" text-anchor="middle" fill="#6e6262">A</text>
<circle cx="572.30" cy="185.80" r="2.25" fill="#fdf4f4" stroke="#d65c62" stroke-width="1.15"/>
<text x="572.30" y="186.95" font-size="3.4" text-anchor="middle" fill="#6e6262">C</text>
<circle cx="577.00" cy="188.70" r="2.25" fill="#fdf4f4" stroke="#d65c62" stroke-width="1.15"/>
<text x="577.00" y="189.85" font-size="3.4" text-anchor="middle" fill="#6e6262">G</text>
<circle cx="578.70" cy="192.70" r="2.25" fill="#fdf4f4" stroke="#d65c62" stroke-width="1.15"/>
<text x="578.70" y="193.85" font-size="3.4" text-anchor="middle" fill="#6e6262">G</text>
<circle cx="577.00" cy="198.00" r="2.25" fill="#fdf4f4" stroke="#d65c62" stroke-width="1.15"/>
<text x="577.00" y="199.15" font-size="3.4" text-anchor="middle" fill="#6e6262">A</text>
<circle cx="578.00" cy="202.60" r="2.25" fill="#fdf4f4" stroke="#d65c62" stroke-width="1.15"/>
<text x="578.00" y="203.75" font-size="3.4" text-anchor="middle" fill="#6e6262">A</text>
<circle cx="582.60" cy="203.64" r="2.25" fill="#fdf4f4" stroke="#d65c62" stroke-width="1.15"/>
<text x="582.60" y="204.79" font-size="3.4" text-anchor="middle" fill="#6e6262">U</text>
<circle cx="588.20" cy="205.06" r="2.25" fill="#fdf4f4" stroke="#d65c62" stroke-width="1.15"/>
<text x="588.20" y="206.21" font-size="3.4" text-anchor="middle" fill="#6e6262">U</text>
<circle cx="593.80" cy="206.48" r="2.25" fill="#fdf4f4" stroke="#d65c62" stroke-width="1.15"/>
<text x="593.80" y="207.63" font-size="3.4" text-anchor="middle" fill="#6e6262">A</text>
<circle cx="599.40" cy="207.90" r="2.25" fill="#fdf4f4" stroke="#d65c62" stroke-width="1.15"/>
<text x="599.40" y="209.05" font-size="3.4" text-anchor="middle" fill="#6e6262">G</text>
<circle cx="605.00" cy="209.33" r="2.25" fill="#fdf4f4" stroke="#d65c62" stroke-width="1.15"/>
<text x="605.00" y="210.48" font-size="3.4" text-anchor="middle" fill="#6e6262">A</text>
<circle cx="610.60" cy="210.75" r="2.25" fill="#fdf4f4" stroke="#d65c62" stroke-width="1.15"/>
<text x="610.60" y="211.90" font-size="3.4" text-anchor="middle" fill="#6e6262">U</text>
<circle cx="616.20" cy="212.17" r="2.25" fill="#fdf4f4" stroke="#d65c62" stroke-width="1.15"/>
<text x="616.20" y="213.32" font-size="3.4" text-anchor="middle" fill="#6e6262">C</text>
<circle cx="621.80" cy="213.59" r="2.25" fill="#fdf4f4" stroke="#d65c62" stroke-width="1.15"/>
<text x="621.80" y="214.74" font-size="3.4" text-anchor="middle" fill="#6e6262">A</text>
<circle cx="627.40" cy="215.02" r="2.25" fill="#fdf4f4" stroke="#d65c62" stroke-width="1.15"/>
<text x="627.40" y="216.17" font-size="3.4" text-anchor="middle" fill="#6e6262">G</text>
<circle cx="633.00" cy="216.44" r="2.25" fill="#fdf4f4" stroke="#d65c62" stroke-width="1.15"/>
<text x="633.00" y="217.59" font-size="3.4" text-anchor="middle" fill="#6e6262">U</text>
<circle cx="638.60" cy="217.86" r="2.25" fill="#fdf4f4" stroke="#d65c62" stroke-width="1.15"/>
<text x="638.60" y="219.01" font-size="3.4" text-anchor="middle" fill="#6e6262">U</text>
<circle cx="644.20" cy="219.28" r="2.25" fill="#fdf4f4" stroke="#d65c62" stroke-width="1.15"/>
<text x="644.20" y="220.43" font-size="3.4" text-anchor="middle" fill="#6e6262">A</text>
<circle cx="649.80" cy="220.70" r="2.25" fill="#fdf4f4" stroke="#d65c62" stroke-width="1.15"/>
<text x="649.80" y="221.85" font-size="3.4" text-anchor="middle" fill="#6e6262">A</text>
<circle cx="655.40" cy="222.21" r="2.25" fill="#fdf4f4" stroke="#d65c62" stroke-width="1.15"/>
<text x="655.40" y="223.36" font-size="3.4" text-anchor="middle" fill="#6e6262">A</text>
<circle cx="660.50" cy="223.40" r="2.25" fill="#fdf4f4" stroke="#d65c62" stroke-width="1.15"/>
<text x="660.50" y="224.55" font-size="3.4" text-anchor="middle" fill="#6e6262">U</text>
<circle cx="675.60" cy="228.40" r="2.25" fill="#fdf4f4" stroke="#d65c62" stroke-width="1.15"/>
<text x="675.60" y="229.55" font-size="3.4" text-anchor="middle" fill="#6e6262">G</text>
<circle cx="680.90" cy="230.30" r="2.25" fill="#fdf4f4" stroke="#d65c62" stroke-width="1.15"/>
<text x="680.90" y="231.45" font-size="3.4" text-anchor="middle" fill="#6e6262">G</text>
<circle cx="686.10" cy="232.50" r="2.25" fill="#fdf4f4" stroke="#d65c62" stroke-width="1.15"/>
<text x="686.10" y="233.65" font-size="3.4" text-anchor="middle" fill="#6e6262">C</text>
<circle cx="576.60" cy="207.90" r="2.25" fill="#fdf4f4" stroke="#d65c62" stroke-width="1.15"/>
<text x="576.60" y="209.05" font-size="3.4" text-anchor="middle" fill="#6e6262">A</text>
<circle cx="582.20" cy="209.33" r="2.25" fill="#fdf4f4" stroke="#d65c62" stroke-width="1.15"/>
<text x="582.20" y="210.48" font-size="3.4" text-anchor="middle" fill="#6e6262">G</text>
<circle cx="587.80" cy="210.77" r="2.25" fill="#fdf4f4" stroke="#d65c62" stroke-width="1.15"/>
<text x="587.80" y="211.92" font-size="3.4" text-anchor="middle" fill="#6e6262">A</text>
<circle cx="593.40" cy="212.20" r="2.25" fill="#fdf4f4" stroke="#d65c62" stroke-width="1.15"/>
<text x="593.40" y="213.35" font-size="3.4" text-anchor="middle" fill="#6e6262">A</text>
<circle cx="599.00" cy="213.63" r="2.25" fill="#fdf4f4" stroke="#d65c62" stroke-width="1.15"/>
<text x="599.00" y="214.78" font-size="3.4" text-anchor="middle" fill="#6e6262">A</text>
<circle cx="604.60" cy="215.07" r="2.25" fill="#fdf4f4" stroke="#d65c62" stroke-width="1.15"/>
<text x="604.60" y="216.22" font-size="3.4" text-anchor="middle" fill="#6e6262">A</text>
<circle cx="610.20" cy="216.50" r="2.25" fill="#fdf4f4" stroke="#d65c62" stroke-width="1.15"/>
<text x="610.20" y="217.65" font-size="3.4" text-anchor="middle" fill="#6e6262">C</text>
<circle cx="615.80" cy="217.94" r="2.25" fill="#fdf4f4" stroke="#d65c62" stroke-width="1.15"/>
<text x="615.80" y="219.09" font-size="3.4" text-anchor="middle" fill="#6e6262">U</text>
<circle cx="621.40" cy="219.37" r="2.25" fill="#fdf4f4" stroke="#d65c62" stroke-width="1.15"/>
<text x="621.40" y="220.52" font-size="3.4" text-anchor="middle" fill="#6e6262">G</text>
<circle cx="627.00" cy="220.80" r="2.25" fill="#fdf4f4" stroke="#d65c62" stroke-width="1.15"/>
<text x="627.00" y="221.95" font-size="3.4" text-anchor="middle" fill="#6e6262">G</text>
<circle cx="632.60" cy="222.24" r="2.25" fill="#fdf4f4" stroke="#d65c62" stroke-width="1.15"/>
<text x="632.60" y="223.39" font-size="3.4" text-anchor="middle" fill="#6e6262">C</text>
<circle cx="638.20" cy="223.67" r="2.25" fill="#fdf4f4" stroke="#d65c62" stroke-width="1.15"/>
<text x="638.20" y="224.82" font-size="3.4" text-anchor="middle" fill="#6e6262">A</text>
<circle cx="643.80" cy="225.10" r="2.25" fill="#fdf4f4" stroke="#d65c62" stroke-width="1.15"/>
<text x="643.80" y="226.25" font-size="3.4" text-anchor="middle" fill="#6e6262">G</text>
<circle cx="649.40" cy="226.54" r="2.25" fill="#fdf4f4" stroke="#d65c62" stroke-width="1.15"/>
<text x="649.40" y="227.69" font-size="3.4" text-anchor="middle" fill="#6e6262">G</text>
<circle cx="655.00" cy="228.05" r="2.25" fill="#fdf4f4" stroke="#d65c62" stroke-width="1.15"/>
<text x="655.00" y="229.20" font-size="3.4" text-anchor="middle" fill="#6e6262">G</text>
<circle cx="660.60" cy="229.74" r="2.25" fill="#fdf4f4" stroke="#d65c62" stroke-width="1.15"/>
<text x="660.60" y="230.89" font-size="3.4" text-anchor="middle" fill="#6e6262">C</text>
<circle cx="666.20" cy="231.62" r="2.25" fill="#fdf4f4" stroke="#d65c62" stroke-width="1.15"/>
<text x="666.20" y="232.77" font-size="3.4" text-anchor="middle" fill="#6e6262">U</text>
<circle cx="671.80" cy="233.70" r="2.25" fill="#fdf4f4" stroke="#d65c62" stroke-width="1.15"/>
<text x="671.80" y="234.85" font-size="3.4" text-anchor="middle" fill="#6e6262">U</text>
<circle cx="677.40" cy="235.96" r="2.25" fill="#fdf4f4" stroke="#d65c62" stroke-width="1.15"/>
<text x="677.40" y="237.11" font-size="3.4" text-anchor="middle" fill="#6e6262">U</text>
<circle cx="684.00" cy="239.20" r="2.25" fill="#fdf4f4" stroke="#d65c62" stroke-width="1.15"/>
<text x="684.00" y="240.35" font-size="3.4" text-anchor="middle" fill="#6e6262">U</text>
<circle cx="691.20" cy="231.50" r="2.25" fill="#fdf4f4" stroke="#d65c62" stroke-width="1.15"/>
<text x="691.20" y="232.65" font-size="3.4" text-anchor="middle" fill="#6e6262">A</text>
<circle cx="695.00" cy="236.60" r="2.25" fill="#fdf4f4" stroke="#d65c62" stroke-width="1.15"/>
<text x="695.00" y="237.75" font-size="3.4" text-anchor="middle" fill="#6e6262">G</text>
<circle cx="693.00" cy="241.60" r="2.25" fill="#fdf4f4" stroke="#d65c62" stroke-width="1.15"/>
<text x="693.00" y="242.75" font-size="3.4" text-anchor="middle" fill="#6e6262">U</text>
<circle cx="688.20" cy="243.20" r="2.25" fill="#fdf4f4" stroke="#d65c62" stroke-width="1.15"/>
<text x="688.20" y="244.35" font-size="3.4" text-anchor="middle" fill="#6e6262">C</text>
<circle cx="520" cy="197.0" r="2.5" fill="#6a3a22" stroke="#9a3a28" stroke-width="0.8"/>
<circle cx="519.5" cy="203.1" r="2.25" fill="#e4f0dc" stroke="#94c482" stroke-width="1.1"/>
<circle cx="666.3" cy="225.1" r="2.6" fill="#a52a2e" stroke="#c03a3a" stroke-width="0.8"/>
<circle cx="669.9" cy="226.5" r="2.6" fill="#a52a2e" stroke="#c03a3a" stroke-width="0.8"/>
</svg></body></html>
